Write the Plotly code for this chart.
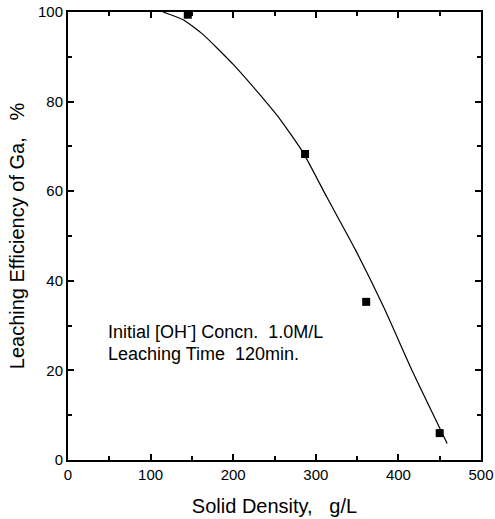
import plotly.graph_objects as go

# measured data points
pts_x = [145, 287, 361, 450]
pts_y = [99.4, 68.3, 35.3, 6.0]

# fitted curve
curve_x = [115, 140, 164, 200, 232, 257, 285, 313, 348, 382, 418, 459]
curve_y = [100, 98.2, 94.9, 88.3, 81.6, 76.0, 68.5, 58.8, 46.9, 34.2, 19.4, 3.7]

x_ticks = [0, 100, 200, 300, 400, 500]
y_ticks = [0, 20, 40, 60, 80, 100]

font_family = "Liberation Sans, Arial, sans-serif"

fig = go.Figure()
fig.add_trace(go.Scatter(x=curve_x, y=curve_y, mode="lines",
                         line=dict(color="black", width=1.2, shape="spline", smoothing=0.5),
                         showlegend=False, cliponaxis=True))
fig.add_trace(go.Scatter(x=pts_x, y=pts_y, mode="markers",
                         marker=dict(symbol="square", size=8, color="black"),
                         showlegend=False, cliponaxis=False))

fig.add_annotation(x=46, y=29, xref="x", yref="y", xanchor="left", yanchor="middle",
                   text="Initial [OH<sup>-</sup>] Concn.  1.0M/L", showarrow=False,
                   font=dict(size=18, color="black", family=font_family))
fig.add_annotation(x=46, y=23.6, xref="x", yref="y", xanchor="left", yanchor="middle",
                   text="Leaching Time  120min.", showarrow=False,
                   font=dict(size=18, color="black", family=font_family))

axis_common = dict(showgrid=False, zeroline=False, showline=True, linecolor="black",
                   linewidth=2, mirror="ticks", ticks="inside", ticklen=6, tickwidth=1.5,
                   tickcolor="black", automargin=False,
                   tickfont=dict(size=15, color="black", family=font_family))

fig.update_xaxes(range=[0, 500], tickvals=x_ticks, ticktext=[str(v) for v in x_ticks],
                 minor=dict(dtick=50, ticks="inside", ticklen=4, tickcolor="black", tickwidth=1.5),
                 title=dict(text="Solid Density,   g/L", font=dict(size=20, color="black", family=font_family),
                            standoff=17),
                 **axis_common)
fig.update_yaxes(range=[0, 100], tickvals=y_ticks, ticktext=[str(v) for v in y_ticks],
                 minor=dict(dtick=10, ticks="inside", ticklen=4, tickcolor="black", tickwidth=1.5),
                 title=dict(text="Leaching Efficiency of Ga,   %", font=dict(size=20, color="black", family=font_family),
                            standoff=8),
                 **axis_common)

fig.update_layout(width=495, height=519, margin=dict(l=68, r=14, t=12, b=59),
                  plot_bgcolor="white", paper_bgcolor="white",
                  font=dict(family=font_family, color="black"))

fig.write_html("out.html", config={"displayModeBar": False},
               post_script="document.body.style.margin='0';document.body.style.overflow='hidden';")
